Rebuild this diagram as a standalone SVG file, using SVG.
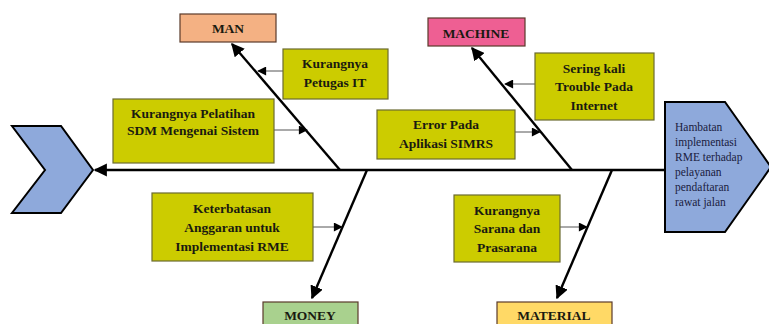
<svg xmlns="http://www.w3.org/2000/svg" width="769" height="324" viewBox="0 0 769 324">
<style>
.cat{stroke:#5a3a2a;stroke-width:1.2}
.cause{fill:#CCCC00;stroke:#6b6b30;stroke-width:1.2}
.t{font-family:"Liberation Serif","Times New Roman",serif;font-weight:bold;font-size:13.5px;fill:#1a1a10;text-anchor:middle}
.h{font-family:"Liberation Serif","Times New Roman",serif;font-size:11.5px;fill:#1a2040}
.bone{stroke:#000;stroke-width:2.4;fill:none}
.sub{stroke:#555;stroke-width:1;fill:none}
.shape{fill:#8EA9DB;stroke:#000;stroke-width:2}
</style>
<defs>
<marker id="ah" viewBox="0 0 10 10" refX="9" refY="5" markerWidth="5.5" markerHeight="5.5" orient="auto" markerUnits="strokeWidth"><path d="M0,0 L10,5 L0,10 z" fill="#000"/></marker>
<marker id="as" viewBox="0 0 10 10" refX="9" refY="5" markerWidth="10" markerHeight="9" orient="auto" markerUnits="strokeWidth"><path d="M0,0 L10,5 L0,10 z" fill="#000"/></marker>
</defs>
<rect width="769" height="324" fill="#fff"/>
<g id="tail"><path class="shape" d="M12,126 L61,126 L93,170 L61,213 L12,213 L45,170 Z"/></g>
<g id="head"><path class="shape" d="M665,102 L725,102 L771,167 L725,232 L665,232 Z"/>
<text class="h" x="675" y="131">Hambatan</text>
<text class="h" x="675" y="146">implementasi</text>
<text class="h" x="675" y="161">RME terhadap</text>
<text class="h" x="675" y="176">pelayanan</text>
<text class="h" x="675" y="191">pendaftaran</text>
<text class="h" x="675" y="206">rawat jalan</text></g>
<g id="connectors">
<line class="bone" x1="665" y1="170" x2="95" y2="170" stroke-width="3" marker-end="url(#ah)"/>
<line class="bone" x1="340" y1="170" x2="232" y2="44" marker-end="url(#ah)"/>
<line class="bone" x1="572" y1="170" x2="472" y2="48" marker-end="url(#ah)"/>
<line class="bone" x1="367" y1="170" x2="312" y2="298" marker-end="url(#ah)"/>
<line class="bone" x1="612" y1="170" x2="557" y2="298" marker-end="url(#ah)"/>
<line class="sub" x1="283" y1="71" x2="258" y2="71" marker-end="url(#as)"/>
<line class="sub" x1="274" y1="130" x2="307" y2="130" marker-end="url(#as)"/>
<line class="sub" x1="535" y1="84" x2="505" y2="84" marker-end="url(#as)"/>
<line class="sub" x1="515" y1="132" x2="540" y2="132" marker-end="url(#as)"/>
<line class="sub" x1="313" y1="227" x2="342" y2="227" marker-end="url(#as)"/>
<line class="sub" x1="560" y1="227" x2="587" y2="227" marker-end="url(#as)"/>
</g>
<g id="man"><rect class="cat" x="180" y="14" width="96" height="28" fill="#F4B183"/><text class="t" x="228" y="33">MAN</text></g>
<g id="machine"><rect class="cat" x="428" y="18" width="97" height="28" fill="#EE5F93"/><text class="t" x="476" y="38">MACHINE</text></g>
<g id="money"><rect class="cat" x="263" y="302" width="95" height="30" fill="#A9D18E" stroke="#6b7a5a"/><text class="t" x="310" y="320">MONEY</text></g>
<g id="material"><rect class="cat" x="497" y="302" width="115" height="30" fill="#FFD966" stroke="#7a6a3a"/><text class="t" x="554" y="320">MATERIAL</text></g>
<g id="petugas"><rect class="cause" x="283" y="49" width="105" height="50"/><text class="t" x="335" y="68">Kurangnya</text><text class="t" x="335" y="87">Petugas IT</text></g>
<g id="pelatihan"><rect class="cause" x="113" y="99" width="161" height="64"/><text class="t" x="193" y="118">Kurangnya Pelatihan</text><text class="t" x="193" y="135">SDM Mengenai Sistem</text></g>
<g id="sering"><rect class="cause" x="535" y="53" width="119" height="67"/><text class="t" x="594" y="73">Sering kali</text><text class="t" x="594" y="91">Trouble Pada</text><text class="t" x="594" y="110">Internet</text></g>
<g id="error"><rect class="cause" x="377" y="110" width="138" height="49"/><text class="t" x="446" y="129">Error Pada</text><text class="t" x="446" y="148">Aplikasi SIMRS</text></g>
<g id="keterbatasan"><rect class="cause" x="152" y="193" width="161" height="68"/><text class="t" x="232" y="213">Keterbatasan</text><text class="t" x="232" y="232">Anggaran untuk</text><text class="t" x="232" y="251">Implementasi RME</text></g>
<g id="sarana"><rect class="cause" x="454" y="195" width="106" height="67"/><text class="t" x="507" y="215">Kurangnya</text><text class="t" x="507" y="233">Sarana dan</text><text class="t" x="507" y="252">Prasarana</text></g>
</svg>
